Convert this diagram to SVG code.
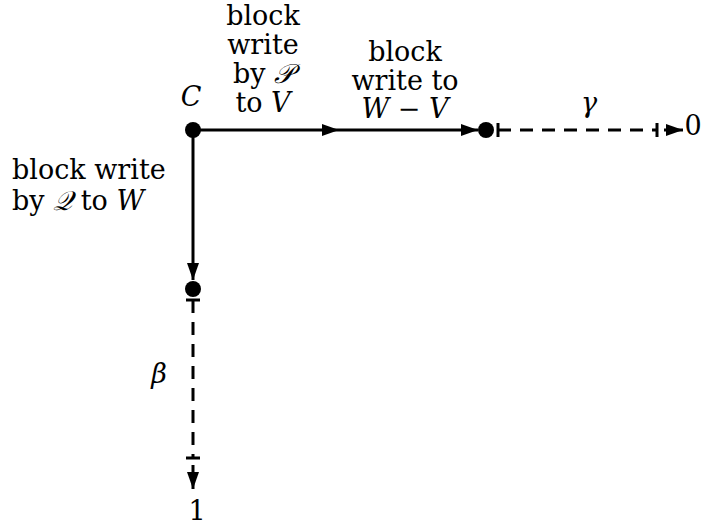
<svg xmlns="http://www.w3.org/2000/svg" width="703" height="527" viewBox="0 0 703 527">
<style>
.s{stroke:#000;stroke-width:3;fill:none}
.d{stroke:#000;stroke-width:3;fill:none;stroke-dasharray:13 9}
.t{stroke:#000;stroke-width:3}
</style>
<defs>
<marker id="a" markerWidth="17" markerHeight="12" refX="17" refY="6" orient="auto" markerUnits="userSpaceOnUse"><path d="M0,0 L17,6 L0,12 Z" fill="#000"/></marker>
</defs>
<rect width="703" height="527" fill="#fff"/>
<g id="connectors">
<line class="s" x1="193" y1="130" x2="339" y2="130" marker-end="url(#a)"/>
<line class="s" x1="339" y1="130" x2="478" y2="130" marker-end="url(#a)"/>
<line class="s" x1="193" y1="130" x2="193" y2="280" marker-end="url(#a)"/>
<line class="t" x1="498" y1="123" x2="498" y2="137"/>
<line class="d" x1="498" y1="130" x2="657" y2="130"/>
<line class="t" x1="657" y1="123" x2="657" y2="137"/>
<line class="s" x1="664" y1="130" x2="683" y2="130" marker-end="url(#a)"/>
<line class="t" x1="186" y1="300" x2="200" y2="300"/>
<line class="d" x1="193" y1="300" x2="193" y2="458"/>
<line class="t" x1="186" y1="458" x2="200" y2="458"/>
<line class="s" x1="193" y1="465" x2="193" y2="489" marker-end="url(#a)"/>
<text font-family="DejaVu Serif" font-size="27" x="263" y="25" text-anchor="middle">block</text>
<text font-family="DejaVu Serif" font-size="27" x="263" y="54" text-anchor="middle">write</text>
<text font-family="DejaVu Serif" font-size="27" x="263" y="83" text-anchor="middle">by <tspan font-style="italic">𝒫</tspan></text>
<text font-family="DejaVu Serif" font-size="27" x="263" y="112" text-anchor="middle">to <tspan font-style="italic">V</tspan></text>
<text font-family="DejaVu Serif" font-size="27" x="405" y="61" text-anchor="middle">block</text>
<text font-family="DejaVu Serif" font-size="27" x="405" y="90" text-anchor="middle">write to</text>
<text font-family="DejaVu Serif" font-size="27" x="405" y="118" text-anchor="middle"><tspan font-style="italic">W</tspan> − <tspan font-style="italic">V</tspan></text>
<text font-family="DejaVu Serif" font-size="27" x="589" y="112" text-anchor="middle" font-style="italic">γ</text>
<text font-family="DejaVu Serif" font-size="27" x="12" y="179">block write</text>
<text font-family="DejaVu Serif" font-size="27" x="12" y="210">by <tspan font-style="italic">𝒬</tspan> to <tspan font-style="italic">W</tspan></text>
<text font-family="DejaVu Serif" font-size="27" x="159" y="383" text-anchor="middle" font-style="italic">β</text>
</g>
<g id="C"><circle cx="193" cy="130" r="8"/><text font-family="DejaVu Serif" font-size="27" x="191" y="106" text-anchor="middle" font-style="italic">C</text></g>
<g id="n2"><circle cx="486" cy="130" r="8"/></g>
<g id="n3"><circle cx="193" cy="289" r="8"/></g>
<g id="t0"><text font-family="DejaVu Serif" font-size="27" x="693" y="135" text-anchor="middle">0</text></g>
<g id="t1"><text font-family="DejaVu Serif" font-size="27" x="197" y="520" text-anchor="middle">1</text></g>
</svg>
